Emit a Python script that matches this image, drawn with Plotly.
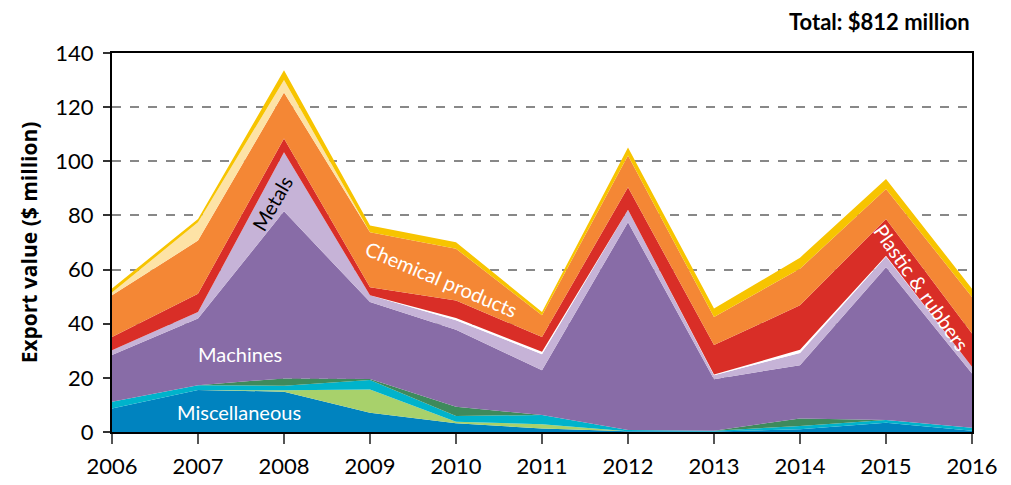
import plotly.graph_objects as go

years = [2006, 2007, 2008, 2009, 2010, 2011, 2012, 2013, 2014, 2015, 2016]

# Stacked layers, bottom to top ($ million)
miscellaneous = [8.7, 15.5, 14.9, 7.1, 3.2, 1.3, 0.3, 0.2, 1.0, 3.4, 0.5]
vegetable = [0, 0, 0.5, 8.6, 0.6, 1.6, 0, 0, 0, 0, 0]
textiles = [2.5, 1.8, 1.7, 3.5, 2.1, 3.4, 0.4, 0.3, 1.2, 1.0, 1.1]
foodstuffs = [0, 0, 2.7, 0.4, 3.4, 0, 0, 0, 2.8, 0, 0]
machines = [17.2, 24.6, 61.7, 28.4, 28.5, 16.5, 76.8, 19.0, 19.7, 56.5, 20.0]
metals = [1.8, 2.4, 21.8, 2.5, 3.5, 5.9, 4.6, 1.5, 4.5, 3.9, 2.5]
other = [0, 0, 0, 0, 0.8, 0.9, 0, 0.2, 1.2, 0.3, 0]
plastic = [4.9, 6.8, 5.1, 3.0, 6.5, 5.5, 8.3, 10.9, 16.4, 13.6, 12.3]
chemical = [15.4, 19.6, 17.0, 20.3, 19.1, 8.0, 11.7, 10.4, 13.5, 11.1, 13.5]
mineral = [1.0, 6.8, 4.6, 0, 0, 0, 0, 0, 0, 0, 0]
transport = [1.5, 1.2, 3.6, 2.5, 2.4, 1.2, 3.0, 3.1, 4.1, 3.7, 3.0]

layers = [
    ("Miscellaneous", miscellaneous, "#0083bf"),
    ("Vegetable products", vegetable, "#a8d16b"),
    ("Textiles", textiles, "#00b3cb"),
    ("Foodstuffs", foodstuffs, "#3e8a5c"),
    ("Machines", machines, "#886ca7"),
    ("Metals", metals, "#c6b3d7"),
    ("Other", other, "#ffffff"),
    ("Plastic & rubbers", plastic, "#d92e27"),
    ("Chemical products", chemical, "#f48735"),
    ("Mineral products", mineral, "#fde3a6"),
    ("Transportation", transport, "#f7c400"),
]

FONT = "Lato"

fig = go.Figure()
for name, vals, color in layers:
    fig.add_trace(go.Scatter(
        x=years, y=vals, name=name, mode="lines",
        stackgroup="one", line=dict(width=0, color=color),
        fillcolor=color, hoverinfo="x+y+name",
    ))

labels = [
    dict(x=2007.49, y=28.7, text="Machines", textangle=0, color="white"),
    dict(x=2007.48, y=7.4, text="Miscellaneous", textangle=0, color="white"),
    dict(x=2007.86, y=84.7, text="Metals", textangle=-60, color="black"),
    dict(x=2009.83, y=56.4, text="Chemical products", textangle=23, color="white"),
    dict(x=2015.41, y=53.4, text="Plastic & rubbers", textangle=55, color="white"),
]
for lb in labels:
    fig.add_annotation(x=lb["x"], y=lb["y"], xref="x", yref="y", text=lb["text"],
                       textangle=lb["textangle"], showarrow=False,
                       font=dict(family=FONT, size=20, color=lb["color"]))

fig.add_annotation(x=1.0, y=1.0, xref="paper", yref="paper", yshift=32,
                   xanchor="right", yanchor="middle", showarrow=False,
                   text="<b>Total: $812 million</b>",
                   font=dict(family=FONT, size=22, color="black"))

fig.update_layout(
    width=1011, height=485,
    margin=dict(l=112, r=39, t=53, b=53, autoexpand=False),
    paper_bgcolor="white", plot_bgcolor="white",
    showlegend=False,
    font=dict(family=FONT, color="black"),
)
fig.update_xaxes(
    range=[2006, 2016], tickvals=years, ticktext=[str(y) for y in years],
    showline=True, linecolor="black", linewidth=2, mirror=True,
    ticks="outside", ticklen=10, tickwidth=2, tickcolor="#555",
    ticklabelstandoff=4, automargin=False,
    showgrid=False, zeroline=False,
    tickfont=dict(family=FONT, size=22, color="black"),
)
fig.update_yaxes(
    range=[0, 140], tickvals=[0, 20, 40, 60, 80, 100, 120, 140],
    showline=True, linecolor="black", linewidth=2, mirror=True,
    ticks="outside", ticklen=7, tickwidth=1.5, tickcolor="#333",
    ticklabelstandoff=5, automargin=False,
    showgrid=True, gridcolor="#888", gridwidth=1.5, griddash="dash",
    zeroline=False,
    tickfont=dict(family=FONT, size=22, color="black"),
    title=dict(text="<b>Export value ($ million)</b>", standoff=12,
               font=dict(family="Open Sans", size=21, color="black")),
)

fig.write_html(
    "out.html",
    config={"displayModeBar": False},
    post_script="document.body.style.margin='0';document.body.style.overflow='hidden';",
)
